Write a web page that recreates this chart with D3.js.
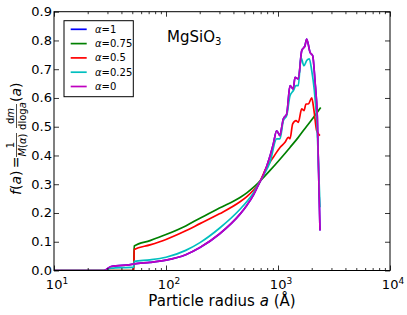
<!DOCTYPE html>
<html>
<head>
<meta charset="utf-8">
<script src="https://cdn.jsdelivr.net/npm/d3@7"></script>
<style>
  body { margin: 0; background: #fff; }
  text { font-family: "DejaVu Sans", sans-serif; fill: #000; }
</style>
</head>
<body>
<script>
// radius grid (Angstrom), one list per series
var radiusGreen = [10, 51.5, 52, 72, 100, 150, 201, 300, 458, 530, 603, 667, 740, 849, 1042, 1280, 1518, 1742, 2000, 2406];
var greenVals   = [0, 0, 0.085, 0.104, 0.125, 0.155, 0.182, 0.217, 0.254, 0.271, 0.289, 0.305, 0.323, 0.348, 0.387, 0.428, 0.463, 0.494, 0.524, 0.567];

var radiusRed = [10, 51.5, 52, 72, 100, 150, 201, 300, 458, 530, 603, 667, 793, 908, 1042, 1155, 1237, 1280, 1352, 1449, 1518, 1628, 1706, 1778, 1865, 2000, 2096, 2216, 2371];
var redVals   = [0, 0, 0.073, 0.089, 0.108, 0.138, 0.163, 0.197, 0.239, 0.258, 0.279, 0.300, 0.359, 0.394, 0.428, 0.446, 0.463, 0.458, 0.510, 0.521, 0.515, 0.562, 0.556, 0.579, 0.579, 0.600, 0.556, 0.486, 0.469];

var radiusCyan = [10, 27.9, 32.3, 51.5, 52, 72, 100, 150, 201, 300, 458, 530, 603, 667, 740, 849, 973, 1042, 1115, 1196, 1280, 1368, 1449, 1518, 1604, 1706, 1804, 1903, 2000, 2096, 2216, 2371];
var cyanVals   = [0, 0, 0.008, 0.012, 0.032, 0.037, 0.046, 0.070, 0.097, 0.147, 0.213, 0.241, 0.270, 0.300, 0.330, 0.377, 0.458, 0.458, 0.521, 0.539, 0.608, 0.625, 0.643, 0.643, 0.740, 0.712, 0.730, 0.736, 0.695, 0.637, 0.521, 0.220];

var radiusPurple = [10, 27.9, 32.3, 51.5, 52, 72, 100, 150, 201, 300, 458, 530, 603, 667, 740, 849, 908, 973, 1042, 1079, 1115, 1196, 1280, 1368, 1419, 1518, 1628, 1742, 1804, 1931, 2041, 2139, 2244, 2371];
var purpleVals   = [0, 0, 0.014, 0.022, 0.023, 0.028, 0.036, 0.055, 0.080, 0.127, 0.196, 0.228, 0.262, 0.297, 0.332, 0.398, 0.440, 0.486, 0.469, 0.498, 0.527, 0.544, 0.643, 0.631, 0.672, 0.666, 0.764, 0.782, 0.805, 0.759, 0.747, 0.660, 0.533, 0.139];

var legendLabels = ["1", "0.75", "0.5", "0.25", "0"];
var yTicks = [0, 0.1, 0.2, 0.3, 0.4, 0.5, 0.6, 0.7, 0.8, 0.9];
var xTicks = [10, 100, 1000, 10000];
var xTickExp = ["1", "2", "3", "4"];

var W = 407, H = 315;
var m = {left: 54, right: 17, top: 11.7, bottom: 44.5};

var svg = d3.select("body").append("svg")
          .attr("width", W).attr("height", H);

var x = d3.scaleLog().domain([10, 10000]).range([m.left, W - m.right]);
var y = d3.scaleLinear().domain([0, 0.9]).range([H - m.bottom, m.top]);

// alpha=1 sits exactly under alpha=0 in the picture
var series = [
  {label: legendLabels[0], color: "#0000ff", r: radiusPurple, v: purpleVals},
  {label: legendLabels[1], color: "#008000", r: radiusGreen, v: greenVals},
  {label: legendLabels[2], color: "#ff0000", r: radiusRed, v: redVals},
  {label: legendLabels[3], color: "#00bfbf", r: radiusCyan, v: cyanVals},
  {label: legendLabels[4], color: "#bf00bf", r: radiusPurple, v: purpleVals}
];

var line = d3.line()
           .curve(d3.curveMonotoneX)
           .x(function (d) { return x(d[0]); })
           .y(function (d) { return y(d[1]); });

var plot = svg.append("g");
plot.append("clipPath").attr("id", "clip")
    .append("rect").attr("x", m.left).attr("y", m.top)
    .attr("width", W - m.left - m.right).attr("height", H - m.top - m.bottom);

plot.selectAll("path.s")
    .data(series)
    .enter()
    .append("path")
    .attr("class", "s")
    .attr("clip-path", "url(#clip)")
    .attr("fill", "none")
    .attr("stroke", function (d) { return d.color; })
    .attr("stroke-width", 1.7)
    .attr("stroke-linejoin", "round")
    .attr("d", function (d) { return line(d3.zip(d.r, d.v)); });

// axes, ticks pointing inward on all four sides
var minor = [];
[10, 100, 1000].forEach(function (dec) {
  for (var k = 2; k <= 9; k++) minor.push(dec * k);
});

svg.append("g").attr("transform", "translate(0," + (H - m.bottom) + ")")
  .call(d3.axisBottom(x).tickValues(xTicks).tickSize(-5).tickFormat(""));
svg.append("g").attr("transform", "translate(0," + (H - m.bottom) + ")")
  .call(d3.axisBottom(x).tickValues(minor).tickSize(-2.5).tickFormat(""));
svg.append("g").attr("transform", "translate(0," + m.top + ")")
  .call(d3.axisTop(x).tickValues(xTicks).tickSize(-5).tickFormat(""));
svg.append("g").attr("transform", "translate(0," + m.top + ")")
  .call(d3.axisTop(x).tickValues(minor).tickSize(-2.5).tickFormat(""));
svg.append("g").attr("transform", "translate(" + m.left + ",0)")
  .call(d3.axisLeft(y).tickValues(yTicks).tickSize(-5).tickFormat(""));
svg.append("g").attr("transform", "translate(" + (W - m.right) + ",0)")
  .call(d3.axisRight(y).tickValues(yTicks).tickSize(-5).tickFormat(""));

svg.selectAll(".domain").remove();
svg.selectAll(".tick line").attr("stroke", "#000").attr("stroke-width", 0.8);

svg.append("rect")
   .attr("x", m.left).attr("y", m.top)
   .attr("width", W - m.left - m.right).attr("height", H - m.top - m.bottom)
   .attr("fill", "none").attr("stroke", "#000").attr("stroke-width", 1);

// tick labels
svg.selectAll("text.yl")
   .data(yTicks)
   .enter()
   .append("text")
   .attr("class", "yl")
   .attr("x", m.left - 2)
   .attr("y", function (d) { return y(d) + 4.5; })
   .attr("text-anchor", "end")
   .style("font-size", "13px")
   .text(function (d) { return d.toFixed(1); });

var xl = svg.selectAll("text.xl")
   .data(xTicks)
   .enter()
   .append("text")
   .attr("class", "xl")
   .attr("x", function (d) { return x(d) + 3; })
   .attr("y", H - m.bottom + 18)
   .attr("text-anchor", "middle")
   .style("font-size", "13px");
xl.append("tspan").text("10");
xl.append("tspan").attr("dy", -5).style("font-size", "9px")
  .text(function (d, i) { return xTickExp[i]; });

// x label
var xlab = svg.append("text")
   .attr("x", (m.left + W - m.right) / 2)
   .attr("y", H - 9)
   .attr("text-anchor", "middle")
   .style("font-size", "15px");
xlab.append("tspan").text("Particle radius ");
xlab.append("tspan").style("font-style", "italic").text("a");
xlab.append("tspan").text(" (Å)");

// y label: f(a) = 1/M(α) dm/dloga (a)
var yl = svg.append("g").attr("transform", "translate(21,141) rotate(-90)");
var f1 = yl.append("text").attr("x", -54).attr("y", 0).style("font-size", "14px");
f1.append("tspan").style("font-style", "italic").text("f");
f1.append("tspan").text("(");
f1.append("tspan").style("font-style", "italic").text("a");
f1.append("tspan").text(")");
yl.append("text").attr("x", -21.5).attr("y", 0).attr("text-anchor", "middle")
  .style("font-size", "14px").text("=");

function frac(cx, num, den) {
  var n = yl.append("text").attr("x", cx).attr("y", -7)
            .attr("text-anchor", "middle").style("font-size", "10px");
  num(n);
  yl.append("line").attr("x1", cx - 12).attr("x2", cx + 12)
    .attr("y1", -4.5).attr("y2", -4.5).attr("stroke", "#000").attr("stroke-width", 0.7);
  var dd = yl.append("text").attr("x", cx).attr("y", 4.5)
             .attr("text-anchor", "middle").style("font-size", "10px");
  den(dd);
}
frac(-4, function (t) { t.text("1"); }, function (t) {
  t.append("tspan").style("font-style", "italic").text("M");
  t.append("tspan").text("(");
  t.append("tspan").style("font-style", "italic").text("α");
  t.append("tspan").text(")");
});
frac(25, function (t) {
  t.append("tspan").text("d");
  t.append("tspan").style("font-style", "italic").text("m");
}, function (t) {
  t.append("tspan").text("dlog");
  t.append("tspan").style("font-style", "italic").text("a");
});
var pa = yl.append("text").attr("x", 39).attr("y", 0).style("font-size", "14px");
pa.append("tspan").text("(");
pa.append("tspan").style("font-style", "italic").text("a");
pa.append("tspan").text(")");

// title text
var mg = svg.append("text").attr("x", 167).attr("y", 42).style("font-size", "15px");
mg.append("tspan").text("MgSiO");
mg.append("tspan").attr("dy", 3).style("font-size", "10px").text("3");

// legend
var lg = svg.append("g");
lg.append("rect")
  .attr("x", 64).attr("y", 20.7).attr("width", 69.3).attr("height", 76)
  .attr("fill", "#fff").attr("stroke", "#000").attr("stroke-width", 1);

var rows = lg.selectAll("g.row")
  .data(series)
  .enter()
  .append("g")
  .attr("class", "row")
  .attr("transform", function (d, i) { return "translate(0," + (29.3 + i * 14.3) + ")"; });
rows.append("line")
  .attr("x1", 70.7).attr("x2", 86.7)
  .attr("stroke", function (d) { return d.color; })
  .attr("stroke-width", 1.7);
var lt = rows.append("text").attr("x", 95).attr("y", 3.5).style("font-size", "10px");
lt.append("tspan").style("font-style", "italic").text("α");
lt.append("tspan").text(function (d) { return "=" + d.label; });
</script>
</body>
</html>
